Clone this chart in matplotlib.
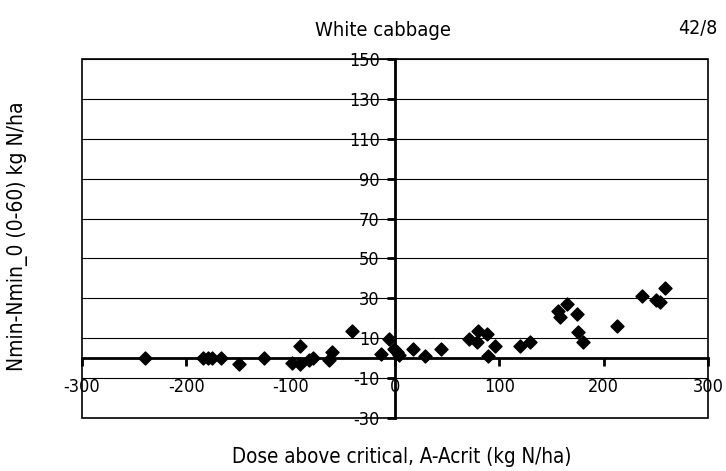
import matplotlib.pyplot as plt
from matplotlib.patches import Rectangle

# dose above critical (kg N/ha) and residual Nmin difference (kg N/ha)
dose = [-240, -184, -179, -175, -167, -150, -126, -99, -91, -91, -82, -79,
        -63, -60, -41, -13, -6, -1, 2, 4,
        17, 29, 44, 71, 80, 79, 88, 89, 96, 120, 129,
        156, 158, 165, 174, 175, 180, 213, 237, 250, 254, 259]
nmin = [0, 0, 0, 0, 0, -2.7, 0, -2.2, -2.7, 6.2, -1, 0,
        -1, 3.2, 13.7, 2, 9.4, 4.5, 3, 1.5,
        4.4, 1, 4.7, 9.4, 13.7, 7.9, 12, 1, 6, 6, 8,
        23.4, 20.4, 27.1, 21.9, 13.2, 8, 16.2, 31, 29.1, 28.1, 35.3]

xticks = [-300, -200, -100, 0, 100, 200, 300]
yticks = [-30, -10, 10, 30, 50, 70, 90, 110, 130, 150]

plt.rcParams['font.family'] = ['DejaVu Sans']
plt.rcParams['font.stretch'] = 'condensed'
plt.rcParams['axes.unicode_minus'] = False

fig = plt.figure(figsize=(7.26, 4.71), dpi=100)
ax = fig.add_axes([82 / 726, 1 - 418 / 471, 626 / 726, 359 / 471])

ax.set_xlim(-300, 300)
ax.set_ylim(-30, 150)

ax.scatter(dose, nmin, marker='D', s=44, color='black', zorder=5, clip_on=False)

# axes cross at the origin
ax.spines['left'].set_position(('data', 0))
ax.spines['bottom'].set_position(('data', 0))
ax.spines['left'].set_linewidth(2)
ax.spines['bottom'].set_linewidth(2)
ax.spines['top'].set_visible(False)
ax.spines['right'].set_visible(False)
ax.add_patch(Rectangle((0, 0), 1, 1, transform=ax.transAxes, fill=False,
                       lw=1.2, edgecolor='black', clip_on=False, zorder=3))

ax.set_xticks(xticks)
ax.set_yticks(yticks)
ax.tick_params(axis='both', direction='out', length=6, width=2, labelsize=13)
ax.tick_params(axis='x', pad=8)
ax.tick_params(axis='y', pad=5)
ax.yaxis.grid(True, color='black', lw=0.8)
ax.set_axisbelow(True)

fig.text(383 / 726, 1 - 30 / 471, 'White cabbage', ha='center', va='center', fontsize=14.5)
fig.text(698 / 726, 1 - 29 / 471, '42/8', ha='center', va='center', fontsize=14)
fig.text(402 / 726, 1 - 457 / 471, 'Dose above critical, A-Acrit (kg N/ha)',
         ha='center', va='center', fontsize=14.8)
fig.text(18 / 726, 1 - 236 / 471, 'Nmin-Nmin_0 (0-60) kg N/ha', ha='center', va='center',
         rotation=90, fontsize=15)

fig.savefig('out.png', dpi=100)
